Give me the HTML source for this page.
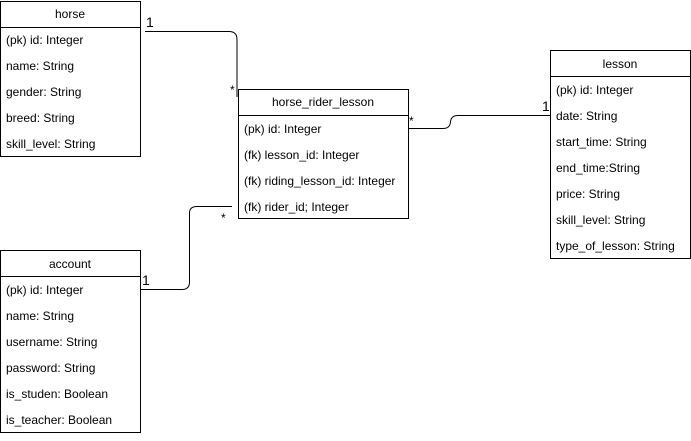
<!DOCTYPE html>
<html><head><style>
body{margin:0;background:#fff;}
svg text{font-family:"Liberation Sans",sans-serif;font-size:12px;fill:#000;}
</style></head><body>
<svg width="691" height="436" xmlns="http://www.w3.org/2000/svg">
<g fill="none" stroke="#000" stroke-width="1">
<rect x="0.5" y="1.5" width="140" height="155"/>
<line x1="0.5" y1="27.5" x2="140.5" y2="27.5"/>
<rect x="238.5" y="89.5" width="170" height="129"/>
<line x1="238.5" y1="115.5" x2="408.5" y2="115.5"/>
<rect x="550.5" y="50.5" width="140" height="208"/>
<line x1="550.5" y1="76.5" x2="690.5" y2="76.5"/>
<rect x="0.5" y="250.5" width="140" height="182"/>
<line x1="0.5" y1="276.5" x2="140.5" y2="276.5"/>
<path d="M145 31.5 H229 Q237 31.5 237 39.5 V97"/>
<path d="M408 128.5 H443 Q450 128.5 450.5 122 Q451 115.5 458 115.5 H550"/>
<path d="M141 289.5 H182 Q189.5 289.5 189.5 282 V213 Q189.5 206.5 197 206.5 H232"/>
</g>
<g text-anchor="middle">
<text x="70" y="18">horse</text>
<text x="323" y="106">horse_rider_lesson</text>
<text x="620" y="68">lesson</text>
<text x="70" y="268">account</text>
</g>
<text x="6" y="44">(pk) id: Integer</text>
<text x="6" y="70">name: String</text>
<text x="6" y="96">gender: String</text>
<text x="6" y="122">breed: String</text>
<text x="6" y="148">skill_level: String</text>
<text x="244" y="133">(pk) id: Integer</text>
<text x="244" y="159">(fk) lesson_id: Integer</text>
<text x="244" y="185">(fk) riding_lesson_id: Integer</text>
<text x="244" y="211">(fk) rider_id; Integer</text>
<text x="556" y="94">(pk) id: Integer</text>
<text x="556" y="120">date: String</text>
<text x="556" y="146">start_time: String</text>
<text x="556" y="172">end_time:String</text>
<text x="556" y="198">price: String</text>
<text x="556" y="224">skill_level: String</text>
<text x="556" y="250">type_of_lesson: String</text>
<text x="6" y="294">(pk) id: Integer</text>
<text x="6" y="320">name: String</text>
<text x="6" y="346">username: String</text>
<text x="6" y="372">password: String</text>
<text x="6" y="398">is_studen: Boolean</text>
<text x="6" y="424">is_teacher: Boolean</text>
<text x="146" y="27" style="font-size:14px">1</text>
<text x="230" y="94">*</text>
<text x="409" y="125">*</text>
<text x="542" y="111" style="font-size:14px">1</text>
<text x="221" y="222">*</text>
<text x="142" y="285" style="font-size:14px">1</text>
</svg>
</body></html>
